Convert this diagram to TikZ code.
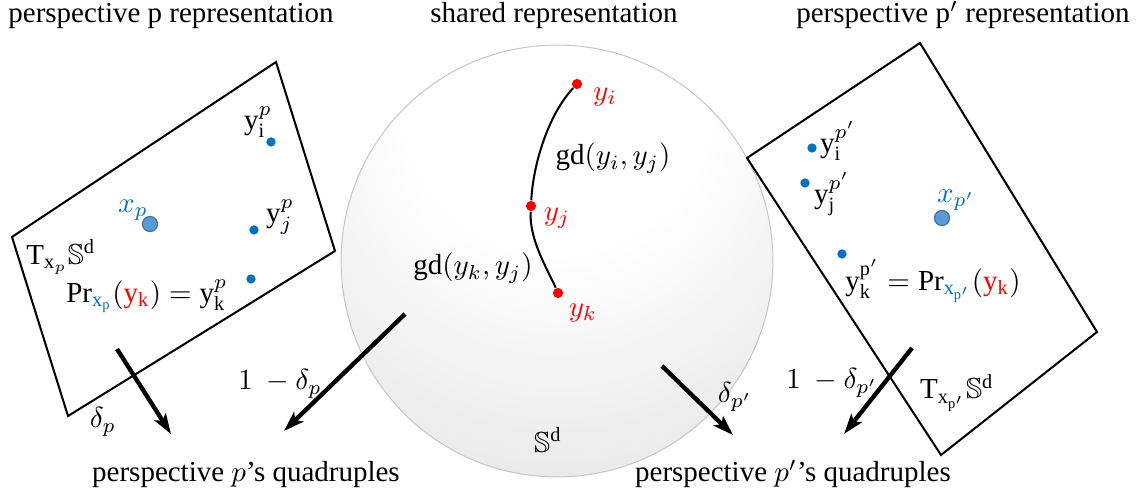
\documentclass[tikz,border=0pt]{standalone}
\usepackage{amsmath,amssymb}
\usepackage{fontspec}
\setmainfont{Liberation Serif}
\usepackage{tikz}
\usetikzlibrary{arrows.meta}
\usepackage{xcolor}
\definecolor{ptblue}{HTML}{0070C0}
\definecolor{xpfill}{HTML}{5B9BD5}
\definecolor{xpline}{HTML}{41719C}
\definecolor{ptred}{HTML}{FF0000}
\pgfdeclareradialshading{spherefill}{\pgfpoint{0bp}{25bp}}{color(0bp)=(white); color(18bp)=(white); color(75bp)=(gray!48)}

\begin{document}
\begin{tikzpicture}[x=0.345pt,y=-0.345pt,
  pdot/.style={circle,fill=ptblue,inner sep=0pt,minimum size=3.2pt},
  rdot/.style={circle,fill=ptred,inner sep=0pt,minimum size=3.5pt},
  xdot/.style={circle,fill=xpfill,draw=xpline,line width=0.4pt,inner sep=0pt,minimum size=5.2pt},
  lbl/.style={inner sep=1pt},
  ttl/.style={anchor=base,inner sep=0pt},
  plane/.style={line width=0.7pt},
  arr/.style={-{Stealth[length=7pt,width=4.6pt,inset=1.6pt]},line width=1.5pt}
]
\useasboundingbox (0,0) rectangle (1141,496);

% Sphere
\shade[shading=spherefill,draw=gray!45,line width=0.35pt] (557,261) circle[radius=74.5pt];

% Tangent planes
\draw[plane] (276,62) -- (335,251) -- (68,416) -- (12,237) -- cycle;
\draw[plane] (920,43) -- (1097,332) -- (941,455) -- (747,158) -- cycle;

% Titles
\node[ttl] (tl) at (171,23) {perspective p representation};
\node[ttl] (tm) at (554,23) {shared representation};
\node[ttl] (tr) at (963,23) {perspective $\mathrm{p}'$ representation};
\node[ttl] (bl) at (246,482) {perspective $p$'s quadruples};
\node[ttl] (br) at (793,482) {perspective $p'$'s quadruples};

% Points on the sphere
\node[rdot] (yi) at (577,84) {};
\node[rdot] (yj) at (531,206) {};
\node[rdot] (yk) at (558,293) {};
\draw[line width=0.7pt] (yi) .. controls (548,115) and (533,165) .. (yj)
  .. controls (529,240) and (548,270) .. (yk);
\node[lbl,text=ptred] (lyi) at (605,97) {$y_i$};
\node[lbl,text=ptred] (lyj) at (557,218) {$y_j$};
\node[lbl,text=ptred] (lyk) at (583,313) {$y_k$};
\node[lbl] (gdij) at (613,158) {$\mathrm{gd}(y_i,y_j)$};
\node[lbl] (gdkj) at (473,268) {$\mathrm{gd}(y_k,y_j)$};
\node[lbl] (sph) at (548,440) {$\mathbb{S}^{\mathrm{d}}$};

% Perspective p plane
\node[pdot] (pi) at (271,142) {};
\node[pdot] (pj) at (254,230) {};
\node[pdot] (pk) at (251,279) {};
\node[xdot] (xp) at (150,224) {};
\node[lbl] at (258,122) {$\mathrm{y}_{\mathrm{i}}^{p}$};
\node[lbl] at (280,217) {$\mathrm{y}_{j}^{p}$};
\node[lbl,text=ptblue] at (133,210) {$x_p$};
\node[lbl] (tp) at (61,257) {$\mathrm{T}_{\mathrm{x}_p}\mathbb{S}^{\mathrm{d}}$};
\node[lbl] (prp) at (147,296) {$\mathrm{Pr}_{\textcolor{ptblue}{\mathrm{x_p}}}(\textcolor{ptred}{\mathrm{y_k}})=\mathrm{y}_{\mathrm{k}}^{p}$};

% Perspective p' plane
\node[pdot] (qi) at (812,148) {};
\node[pdot] (qj) at (805,183) {};
\node[pdot] (qk) at (842,254) {};
\node[xdot] (xq) at (942,218) {};
\node[lbl] at (838,141) {$\mathrm{y}_{\mathrm{i}}^{p'}$};
\node[lbl] at (832,194) {$\mathrm{y}_{\mathrm{j}}^{p'}$};
\node[lbl,text=ptblue] at (956,200) {$x_{p'}$};
\node[lbl] (prq) at (933,281) {$\mathrm{y}_{\mathrm{k}}^{\mathrm{p}'}=\mathrm{Pr}_{\textcolor{ptblue}{\mathrm{x}_{\mathrm{p}'}}}(\textcolor{ptred}{\mathrm{y_k}})$};
\node[lbl] (tq) at (957,393) {$\mathrm{T}_{\mathrm{x}_{\mathrm{p}'}}\mathbb{S}^{\mathrm{d}}$};

% Weights to the quadruples
\coordinate (a1s) at (117,349); \coordinate (a1e) at (171,434);
\coordinate (a2s) at (405,314); \coordinate (a2e) at (284,431);
\coordinate (a3s) at (662,366); \coordinate (a3e) at (733,435);
\coordinate (a4s) at (912,348); \coordinate (a4e) at (844,434);
\draw[arr] (a1s) -- (a1e);
\draw[arr] (a2s) -- (a2e);
\draw[arr] (a3s) -- (a3e);
\draw[arr] (a4s) -- (a4e);
\node[lbl] at (103,422) {$\delta_p$};
\node[lbl] at (280,384) {$1\ -\delta_p$};
\node[lbl] at (735,397) {$\delta_{p'}$};
\node[lbl] at (832,383) {$1\ -\delta_{p'}$};
\end{tikzpicture}
\end{document}
